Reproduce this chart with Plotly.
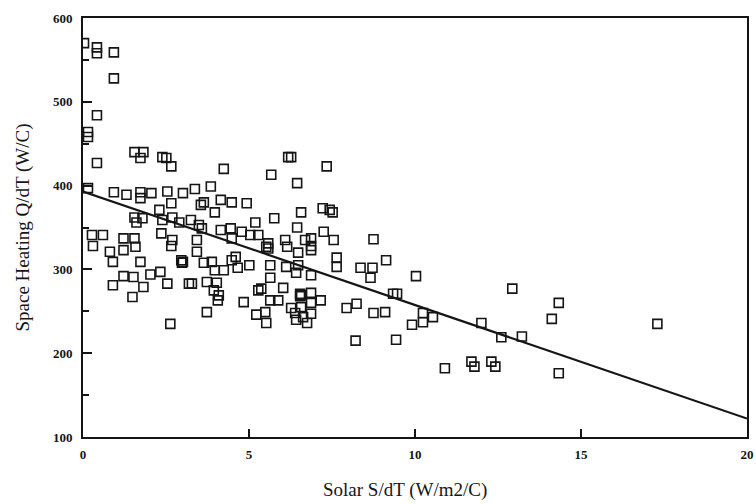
import plotly.graph_objects as go

solar = [0.03, 0.42, 0.42, 0.93, 0.93, 0.42, 0.15, 0.15, 0.42, 0.15,
         1.55, 1.82, 1.73, 2.39, 2.51, 2.66, 4.24, 0.93, 1.31, 1.73,
         1.73, 2.06, 2.54, 3.01, 3.37, 3.85, 2.66, 3.55, 3.97, 4.15,
         4.48, 4.93, 1.55, 1.79, 1.61, 2.30, 2.39, 2.69, 2.90, 3.25,
         3.49, 4.15, 4.45, 4.78, 5.19, 2.36, 2.69, 3.43, 0.27, 0.60,
         1.22, 1.55, 0.30, 0.81, 1.22, 1.58, 0.90, 1.73, 2.66, 2.96,
         3.01, 2.98, 1.22, 1.52, 0.90, 1.82, 2.03, 2.33, 2.54, 1.49,
         3.19, 2.63, 6.18, 6.27, 5.67, 6.45, 3.64, 5.76, 6.57, 6.45,
         3.58, 5.04, 5.28, 4.48, 5.58, 6.09, 6.15, 6.69, 3.43, 3.64,
         3.88, 3.97, 4.24, 3.28, 3.73, 4.03, 3.94, 4.09, 4.06, 3.73,
         4.60, 4.66, 5.01, 5.64, 5.64, 6.12, 6.48, 6.42, 4.84, 5.28,
         5.37, 6.03, 5.64, 5.88, 5.22, 5.49, 5.52, 6.57, 6.27, 6.39,
         6.42, 6.57, 6.63, 5.58, 6.48, 5.52, 7.34, 7.22, 7.43, 7.52,
         6.87, 7.25, 7.55, 6.87, 8.75, 6.87, 7.64, 7.64, 8.36, 8.72,
         8.66, 9.13, 10.03, 6.87, 6.54, 6.87, 7.16, 6.87, 6.54, 6.87,
         6.75, 7.94, 8.24, 8.75, 9.10, 9.34, 9.46, 9.91, 10.24, 10.24,
         8.21, 9.43, 12.93, 10.54, 12.0, 12.6, 13.22, 14.33, 14.12, 10.9,
         11.7, 11.79, 12.3, 12.42, 14.33, 17.3, 4.48]

heating = [570, 565, 558, 559, 528, 484, 464, 458, 427, 397,
           440, 440, 433, 434, 433, 423, 420, 392, 389, 392,
           385, 391, 393, 391, 396, 399, 379, 377, 368, 383,
           380, 379, 362, 361, 356, 371, 359, 362, 356, 359,
           353, 347, 349, 345, 356, 343, 335, 335, 341, 341,
           337, 337, 328, 321, 323, 327, 309, 309, 328, 311,
           309, 308, 292, 291, 281, 279, 294, 297, 283, 267,
           283, 235, 434, 434, 413, 403, 380, 361, 368, 350,
           349, 341, 341, 337, 331, 335, 327, 335, 321, 308,
           309, 299, 299, 283, 285, 284, 275, 269, 263, 249,
           315, 302, 305, 305, 290, 303, 305, 296, 261, 275,
           277, 278, 263, 263, 246, 249, 236, 269, 254, 248,
           240, 255, 243, 325, 320, 327, 423, 373, 371, 368,
           337, 345, 335, 328, 336, 323, 314, 303, 302, 302,
           290, 311, 292, 293, 271, 272, 263, 260, 268, 247,
           236, 254, 259, 248, 249, 271, 271, 234, 248, 237,
           215, 216, 277, 243, 236, 219, 220, 260, 241, 182,
           190, 184, 190, 184, 176, 235, 311]

fit_x = [0, 20]
fit_y = [393, 122]

x_ticks = [0, 5, 10, 15, 20]
y_ticks = [100, 200, 300, 400, 500, 600]

ink = "#151515"
serif = "Liberation Serif"

L, R, T, B = 83, 9, 18, 67
PW = 756 - L - R
PH = 504 - T - B

fig = go.Figure()
fig.add_trace(go.Scatter(
    x=solar, y=heating, mode="markers",
    marker=dict(symbol="square-open", size=9, color=ink,
                line=dict(width=1.6, color=ink)),
    hoverinfo="skip", showlegend=False))
fig.add_trace(go.Scatter(
    x=fit_x, y=fit_y, mode="lines",
    line=dict(color=ink, width=2.2), showlegend=False))

fig.update_layout(
    width=756, height=504,
    margin=dict(l=L, r=R, t=T, b=B),
    paper_bgcolor="white", plot_bgcolor="white",
    font=dict(family=serif, color=ink, size=12),
    xaxis=dict(range=[0, 20], tickvals=x_ticks, ticktext=[str(v) for v in x_ticks],
               ticks="inside", ticklen=8, tickwidth=2, tickcolor=ink,
               showline=True, linewidth=2, linecolor=ink, mirror=True,
               showgrid=False, zeroline=False, ticklabelstandoff=4,
               ticklabeloverflow="allow", automargin=False,
               tickfont=dict(family=serif, size=13, color=ink, weight="bold")),
    yaxis=dict(range=[100, 600], tickvals=y_ticks, ticktext=[str(v) for v in y_ticks],
               ticks="inside", ticklen=9, tickwidth=2, tickcolor=ink,
               minor=dict(ticks="inside", ticklen=6, tickwidth=1.5, tickcolor=ink, dtick=50),
               showline=True, linewidth=2, linecolor=ink, mirror=True,
               showgrid=False, zeroline=False, ticklabelstandoff=6,
               ticklabeloverflow="allow", automargin=False,
               tickfont=dict(family=serif, size=13, color=ink, weight="bold")),
    annotations=[
        dict(text="Solar S/dT (W/m2/C)", xref="paper", yref="paper",
             x=(405 - L) / PW, y=-(490 - (T + PH)) / PH, xanchor="center", yanchor="middle",
             showarrow=False, font=dict(family=serif, size=19, color=ink)),
        dict(text="Space Heating Q/dT (W/C)", xref="paper", yref="paper",
             x=-(L - 22) / PW, y=0.5, xanchor="center", yanchor="middle", textangle=-90,
             showarrow=False, font=dict(family=serif, size=19, color=ink)),
    ],
)

fig.write_html("out.html")
